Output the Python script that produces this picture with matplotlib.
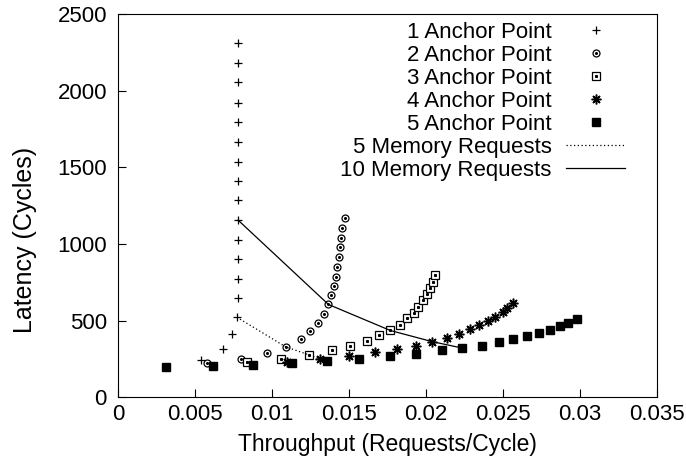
import matplotlib
matplotlib.use("Agg")
import matplotlib.pyplot as plt
from matplotlib.legend_handler import HandlerTuple

plt.rcParams["font.family"] = ["Liberation Sans", "DejaVu Sans"]

# throughput (requests/cycle) vs latency (cycles), one curve per anchor count
anchor1_x = [0.00537, 0.0068, 0.00738, 0.00771, 0.0078, 0.0078, 0.0078, 0.0078,
             0.0078, 0.0078, 0.0078, 0.0078, 0.0078, 0.0078, 0.0078, 0.0078,
             0.0078, 0.0078]
anchor1_y = [241, 315, 411, 522, 644, 770, 899, 1025, 1155, 1286, 1410, 1536,
             1666, 1793, 1921, 2056, 2180, 2311]

anchor2_x = [0.00576, 0.0080, 0.0097, 0.01089, 0.01188, 0.01249, 0.01296,
             0.01335, 0.01366, 0.01385, 0.01402, 0.01416, 0.01424, 0.01435,
             0.01442, 0.01448, 0.01455, 0.01472]
anchor2_y = [220, 248, 289, 328, 380, 433, 486, 544, 605, 666, 727, 785, 847,
             912, 977, 1040, 1105, 1166]

anchor3_x = [0.00836, 0.01058, 0.0124, 0.01387, 0.01509, 0.01619, 0.01697,
             0.01768, 0.01829, 0.01879, 0.0192, 0.01945, 0.0198, 0.02008,
             0.02026, 0.02047, 0.0206]
anchor3_y = [228, 250, 276, 305, 335, 366, 403, 435, 474, 514, 550, 590, 631,
             672, 713, 753, 794]

anchor4_x = [0.01095, 0.0131, 0.01498, 0.01671, 0.0181, 0.01935, 0.02037,
             0.02138, 0.02216, 0.02286, 0.02346, 0.02405, 0.02448, 0.02496,
             0.02524, 0.02567]
anchor4_y = [230, 250, 270, 292, 313, 335, 363, 387, 415, 442, 468, 496, 524,
             553, 583, 614]

anchor5_x = [0.0031, 0.00615, 0.00879, 0.01132, 0.01359, 0.01567, 0.01768,
             0.01937, 0.021, 0.02236, 0.0236, 0.02472, 0.02567, 0.02658,
             0.02736, 0.02807, 0.02866, 0.02924, 0.02978]
anchor5_y = [194, 204, 211, 224, 237, 248, 268, 281, 305, 320, 333, 361, 379,
             398, 420, 439, 465, 483, 509]

# iso-request curves
mem5_x = [0.00771, 0.01089, 0.0124, 0.01305, 0.01359]
mem5_y = [522, 328, 276, 250, 237]
mem10_x = [0.0078, 0.01366, 0.01768, 0.02037, 0.02236]
mem10_y = [1155, 605, 435, 363, 320]

fig = plt.figure(figsize=(6.86, 4.70), dpi=100)
ax = fig.add_axes([0.172, 0.155, 0.786, 0.815])

k = "black"
h1, = ax.plot(anchor1_x, anchor1_y, ls="none", marker="+", ms=6, mew=0.9, color=k)
h2a, = ax.plot(anchor2_x, anchor2_y, ls="none", marker="o", ms=5, mfc="none",
               mew=0.9, color=k)
h2b, = ax.plot(anchor2_x, anchor2_y, ls="none", marker="o", ms=1.2, color=k)
h3a, = ax.plot(anchor3_x, anchor3_y, ls="none", marker="s", ms=6, mfc="white",
               mew=0.9, color=k)
h3b, = ax.plot(anchor3_x, anchor3_y, ls="none", marker="s", ms=1.2, color=k)
h4, = ax.plot(anchor4_x, anchor4_y, ls="none", marker=(8, 2, 0), ms=7, mew=1.1,
              color=k)
h5, = ax.plot(anchor5_x, anchor5_y, ls="none", marker="s", ms=6, color=k)
h6, = ax.plot(mem5_x, mem5_y, ls=(0, (1, 2)), lw=0.9, color=k)
h7, = ax.plot(mem10_x, mem10_y, ls="-", lw=0.9, color=k)

ax.set_xlim(0, 0.035)
ax.set_ylim(0, 2500)
ax.set_xticks([0, 0.005, 0.01, 0.015, 0.02, 0.025, 0.03, 0.035])
ax.set_xticklabels(["0", "0.005", "0.01", "0.015", "0.02", "0.025", "0.03", "0.035"])
ax.set_yticks([0, 500, 1000, 1500, 2000, 2500])
ax.tick_params(direction="in", length=6, labelsize=16)
ax.tick_params(axis="x", pad=5)
ax.tick_params(axis="y", pad=8)
ax.set_xlabel("Throughput (Requests/Cycle)", fontsize=16.5, labelpad=6)
ax.set_ylabel("Latency (Cycles)", fontsize=18)
ax.yaxis.set_label_coords(-0.15, 0.41)

labels = ["1 Anchor Point", "2 Anchor Point", "3 Anchor Point", "4 Anchor Point",
          "5 Anchor Point", "5 Memory Requests", "10 Memory Requests"]
ax.legend([h1, (h2a, h2b), (h3a, h3b), h4, h5, h6, h7], labels,
          handler_map={tuple: HandlerTuple(ndivide=1)},
          loc="upper right", frameon=False, markerfirst=False, fontsize=16,
          handlelength=2.65, labelspacing=0.09, borderaxespad=0.0,
          borderpad=0.35, handletextpad=0.65, numpoints=1,
          bbox_to_anchor=(0.955, 1.0))

fig.savefig("out.png", dpi=100)
